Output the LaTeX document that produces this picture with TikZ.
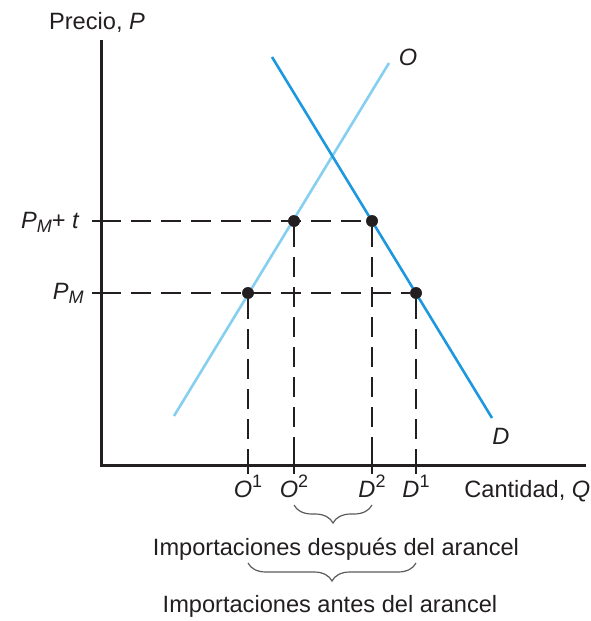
\documentclass[tikz,border=0pt]{standalone}
\usepackage{fontspec}
\setmainfont{Liberation Sans}
\usepackage{tikz}
\usetikzlibrary{decorations.pathreplacing}
\definecolor{tarifink}{HTML}{231F20}
\definecolor{tarifsupply}{HTML}{86CFF1}
\definecolor{tarifdemand}{HTML}{1D97DD}
\definecolor{tarifbracecol}{HTML}{5A5A5A}
\tikzset{%
  tarifaxis/.style={line width=1.5pt,draw=tarifink,line join=miter},
  tariftick/.style={line width=0.6pt,draw=tarifink},
  tarifdash/.style={line width=0.9pt,draw=tarifink,dash pattern=on 10pt off 5pt},
  tarifcurve/.style={line width=1.3pt},
  tarifdot/.style={circle,fill=tarifink,inner sep=0pt,minimum size=5.8pt},
  tarifbrace/.style={decorate,decoration={brace,mirror,amplitude=9pt},line width=0.6pt,draw=tarifbracecol},
  tariftext/.style={text=tarifink,inner sep=0pt}
}
\newcommand{\tarifsub}[1]{\raisebox{-0.35ex}{\fontsize{9}{10}\selectfont\textit{#1}}}
\newcommand{\tarifsup}[1]{\raisebox{0.75ex}{\fontsize{9}{10}\selectfont #1}}
\begin{document}
\begin{tikzpicture}[x=0.5pt,y=-0.5pt,font=\fontsize{11.8}{14}\selectfont]
  \useasboundingbox (0,0) rectangle (590,621);
  % axes
  \coordinate (origin) at (101,465);
  \coordinate (ytop) at (101,40);
  \coordinate (xend) at (586,465);
  % equilibrium points
  \node[tarifdot] (o1) at (248,293) {};
  \node[tarifdot] (o2) at (294,221) {};
  \node[tarifdot] (d2) at (372,221) {};
  \node[tarifdot] (d1) at (416,293) {};
  % dashed guides
  \draw[tarifdash] (ytop |- d2) -- (d2);
  \draw[tarifdash] (ytop |- d1) -- (d1);
  \draw[tarifdash] (o1) -- (o1 |- origin);
  \draw[tarifdash] (o2) -- (o2 |- origin);
  \draw[tarifdash] (d2) -- (d2 |- origin);
  \draw[tarifdash] (d1) -- (d1 |- origin);
  % supply and demand
  \coordinate (sstart) at (174,416);
  \coordinate (send) at (389,63);
  \coordinate (dstart) at (272,57);
  \coordinate (dend) at (492,418);
  \draw[tarifcurve,draw=tarifsupply] (sstart) -- (send);
  \draw[tarifcurve,draw=tarifdemand] (dstart) -- (dend);
  \node[tarifdot] at (o1) {};
  \node[tarifdot] at (o2) {};
  \node[tarifdot] at (d2) {};
  \node[tarifdot] at (d1) {};
  \draw[tarifaxis] (ytop) -- (origin) -- (xend);
  % ticks
  \foreach \p in {d2,d1}
    \draw[tariftick] ([xshift=-4.5pt]ytop |- \p) -- ([xshift=4.5pt]ytop |- \p);
  \foreach \p in {o1,o2,d2,d1}
    \draw[tariftick] ([yshift=5pt]\p |- origin) -- ([yshift=-4.5pt]\p |- origin);
  % labels
  \node[tariftext,anchor=base] (ylab) at (97,29) {Precio, \textit{P}};
  \node[tariftext,anchor=base west] (xlab) at (464,497) {Cantidad, \textit{Q}};
  \node[tariftext] (slab) at (408,57) {\textit{O}};
  \node[tariftext] (dlab) at (501,436) {\textit{D}};
  \node[tariftext,anchor=base east] (pmtlab) at (80,228) {\textit{P}\tarifsub{M}+ \textit{t}};
  \node[tariftext,anchor=base east] (pmlab) at (84,299) {\textit{P}\tarifsub{M}};
  \node[tariftext,anchor=base] (o1lab) at (o1 |- 0,497) {\textit{O}\tarifsup{1}};
  \node[tariftext,anchor=base] (o2lab) at (o2 |- 0,497) {\textit{O}\tarifsup{2}};
  \node[tariftext,anchor=base] (d2lab) at (d2 |- 0,497) {\textit{D}\tarifsup{2}};
  \node[tariftext,anchor=base] (d1lab) at (d1 |- 0,497) {\textit{D}\tarifsup{1}};
  % braces
  \draw[tarifbrace] (o2 |- 0,505) -- (d2 |- 0,505);
  \draw[tarifbrace] (o1 |- 0,563) -- (d1 |- 0,563);
  \node[tariftext,anchor=base] (afterlab) at (336,555) {Importaciones después del arancel};
  \node[tariftext,anchor=base] (beforelab) at (330,612) {Importaciones antes del arancel};
\end{tikzpicture}
\end{document}
